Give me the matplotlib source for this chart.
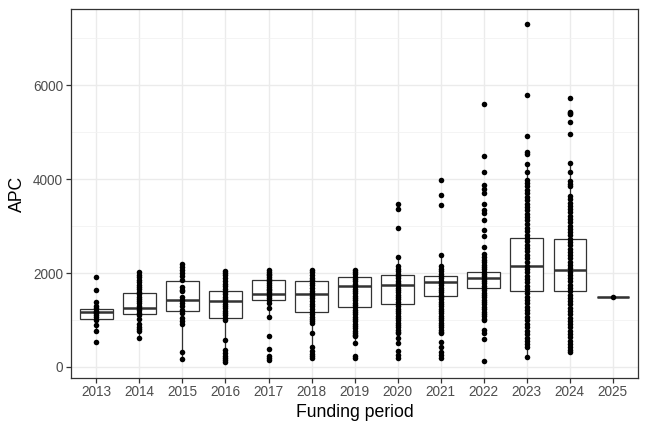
import matplotlib.pyplot as plt
import numpy as np

plt.rcParams['font.family'] = ['Liberation Sans', 'DejaVu Sans']

years = ["2013", "2014", "2015", "2016", "2017", "2018", "2019",
         "2020", "2021", "2022", "2023", "2024", "2025"]

# APC values per funding period
apc_2013 = [1915, 1629, 1373, 1290, 1250, 1200, 1174, 1140, 1110, 1060, 989, 897, 769, 540]
apc_2014 = [2014, 1965, 1916, 1858, 1800, 1751, 1700, 1659, 1600, 1553, 1500, 1446, 1400, 1361,
            1303, 1254, 1203, 1147, 1100, 1019, 919, 849, 806, 769, 612]
apc_2015 = [2193, 2129, 2071, 2001, 1929, 1844, 1700, 1645, 1609, 1500, 1431, 1360, 1288,
            1218, 1147, 1040, 980, 918, 314, 165]
apc_2016 = [2050, 2000, 1950, 1890, 1830, 1770, 1720, 1660, 1600, 1550, 1500, 1450, 1400,
            1350, 1300, 1250, 1200, 1150, 1100, 1050, 1000, 577, 360, 300, 240, 190, 140, 100]
apc_2017 = [2071, 2030, 1990, 1950, 1910, 1870, 1830, 1790, 1750, 1710, 1670, 1630, 1590,
            1550, 1510, 1470, 1430, 1360, 1254, 1053, 669, 384, 240, 190, 150]
apc_2018 = [2071, 2020, 1960, 1900, 1850, 1790, 1740, 1680, 1620, 1570, 1510, 1460, 1400,
            1350, 1290, 1240, 1180, 1130, 1070, 1020, 970, 931, 733, 434, 330, 280, 230, 190]
apc_2019 = [2071, 2020, 1970, 1920, 1870, 1820, 1770, 1720, 1670, 1620, 1570, 1520, 1470,
            1420, 1370, 1320, 1270, 1220, 1170, 1120, 1070, 1020, 970, 920, 870, 820, 770,
            720, 670, 650, 519, 230, 190]
apc_2020 = [3481, 3374, 2961, 2334, 2142, 2090, 2040, 1990, 1940, 1890, 1840, 1790, 1740,
            1690, 1640, 1590, 1540, 1490, 1440, 1390, 1340, 1290, 1240, 1190, 1140, 1090,
            1040, 990, 940, 890, 840, 790, 740, 718, 611, 505, 330, 250, 186]
apc_2021 = [3972, 3658, 3459, 2385, 2142, 2090, 2040, 1990, 1940, 1890, 1840, 1790, 1740,
            1690, 1640, 1590, 1540, 1490, 1440, 1390, 1340, 1290, 1240, 1190, 1140, 1090,
            1040, 990, 940, 890, 840, 790, 740, 718, 541, 434, 327, 250, 186]
apc_2022 = [5595, 4491, 4149, 3886, 3800, 3709, 3481, 3352, 3282, 3139, 2911, 2783, 2562,
            2400, 2340, 2285, 2230, 2180, 2130, 2080, 2030, 1980, 1930, 1880, 1830, 1780,
            1730, 1680, 1630, 1580, 1530, 1480, 1430, 1380, 1330, 1280, 1230, 1180, 1130,
            1080, 1030, 1001, 790, 724, 604, 122]
apc_2023 = [7296, 5793, 4911, 4576, 4527, 4328, 4157, 3993, 3920, 3850, 3780, 3700, 3630,
            3560, 3480, 3410, 3340, 3260, 3190, 3120, 3040, 2970, 2900, 2820, 2750, 2680,
            2600, 2530, 2460, 2380, 2310, 2240, 2160, 2090, 2020, 1940, 1870, 1800, 1720,
            1650, 1580, 1500, 1430, 1360, 1280, 1210, 1140, 1060, 990, 920, 840, 770, 700,
            620, 550, 480, 434, 207]
apc_2024 = [5729, 5439, 5400, 5381, 5210, 4969, 4341, 4149, 3957, 3900, 3850, 3637, 3570,
            3500, 3430, 3360, 3290, 3220, 3150, 3080, 3010, 2940, 2870, 2800, 2730, 2660,
            2590, 2520, 2450, 2380, 2310, 2240, 2170, 2100, 2030, 1960, 1890, 1820, 1750,
            1680, 1610, 1540, 1470, 1400, 1330, 1260, 1190, 1120, 1050, 980, 910, 840, 770,
            700, 630, 560, 490, 420, 360, 327]
apc_2025 = [1488]

apc = [apc_2013, apc_2014, apc_2015, apc_2016, apc_2017, apc_2018, apc_2019,
       apc_2020, apc_2021, apc_2022, apc_2023, apc_2024, apc_2025]

# box statistics as drawn in the chart
q1 = [1025, 1132, 1181, 1032, 1424, 1174, 1267, 1339, 1510, 1672, 1616, 1616, 1488]
med = [1160, 1245, 1431, 1403, 1559, 1545, 1715, 1744, 1815, 1886, 2142, 2065, 1488]
q3 = [1232, 1580, 1822, 1623, 1843, 1829, 1915, 1950, 1943, 2014, 2740, 2727, 1488]
whislo = [769, 612, 165, 100, 1053, 190, 505, 505, 900, 1160, 207, 327, 1488]
whishi = [1373, 2014, 2193, 2050, 2071, 2071, 2071, 2334, 2385, 2285, 4328, 4341, 1488]

stats = []
for i in range(len(years)):
    stats.append({"q1": q1[i], "med": med[i], "q3": q3[i],
                  "whislo": whislo[i], "whishi": whishi[i], "fliers": []})

fig = plt.figure(figsize=(6.48, 4.32), dpi=100)
ax = fig.add_axes([0.109, 0.1257, 0.8763, 0.8528])

dark = "#333333"
ax.bxp(stats, positions=range(len(years)), widths=0.75, showcaps=False,
       patch_artist=True, manage_ticks=False,
       boxprops=dict(facecolor="white", edgecolor=dark, linewidth=0.9),
       whiskerprops=dict(color=dark, linewidth=0.9),
       medianprops=dict(color=dark, linewidth=1.8),
       zorder=2)

for i, vals in enumerate(apc):
    ax.plot(np.full(len(vals), i), vals, "o", color="black", markersize=4.0,
            markeredgewidth=0, zorder=3)

ax.set_xlim(-0.6, len(years) - 0.4)
ax.set_ylim(-230, 7620)
ax.set_xticks(range(len(years)))
ax.set_xticklabels(years)
ax.set_yticks([0, 2000, 4000, 6000])
ax.set_yticks([1000, 3000, 5000, 7000], minor=True)

ax.grid(True, which="major", color="#EBEBEB", linewidth=1.0, zorder=0)
ax.grid(True, which="minor", axis="y", color="#F2F2F2", linewidth=0.6, zorder=0)
ax.set_axisbelow(True)

for s in ax.spines.values():
    s.set_color(dark)
    s.set_linewidth(0.9)

ax.tick_params(axis="both", which="major", length=3.5, width=0.9, color=dark,
               labelsize=9.8, labelcolor="#4D4D4D", pad=2)
ax.tick_params(axis="y", which="minor", length=0)

ax.set_xlabel("Funding period", fontsize=12.7, labelpad=3)
ax.set_ylabel("APC", fontsize=12.7, labelpad=5)

fig.savefig("out.png", dpi=100)
